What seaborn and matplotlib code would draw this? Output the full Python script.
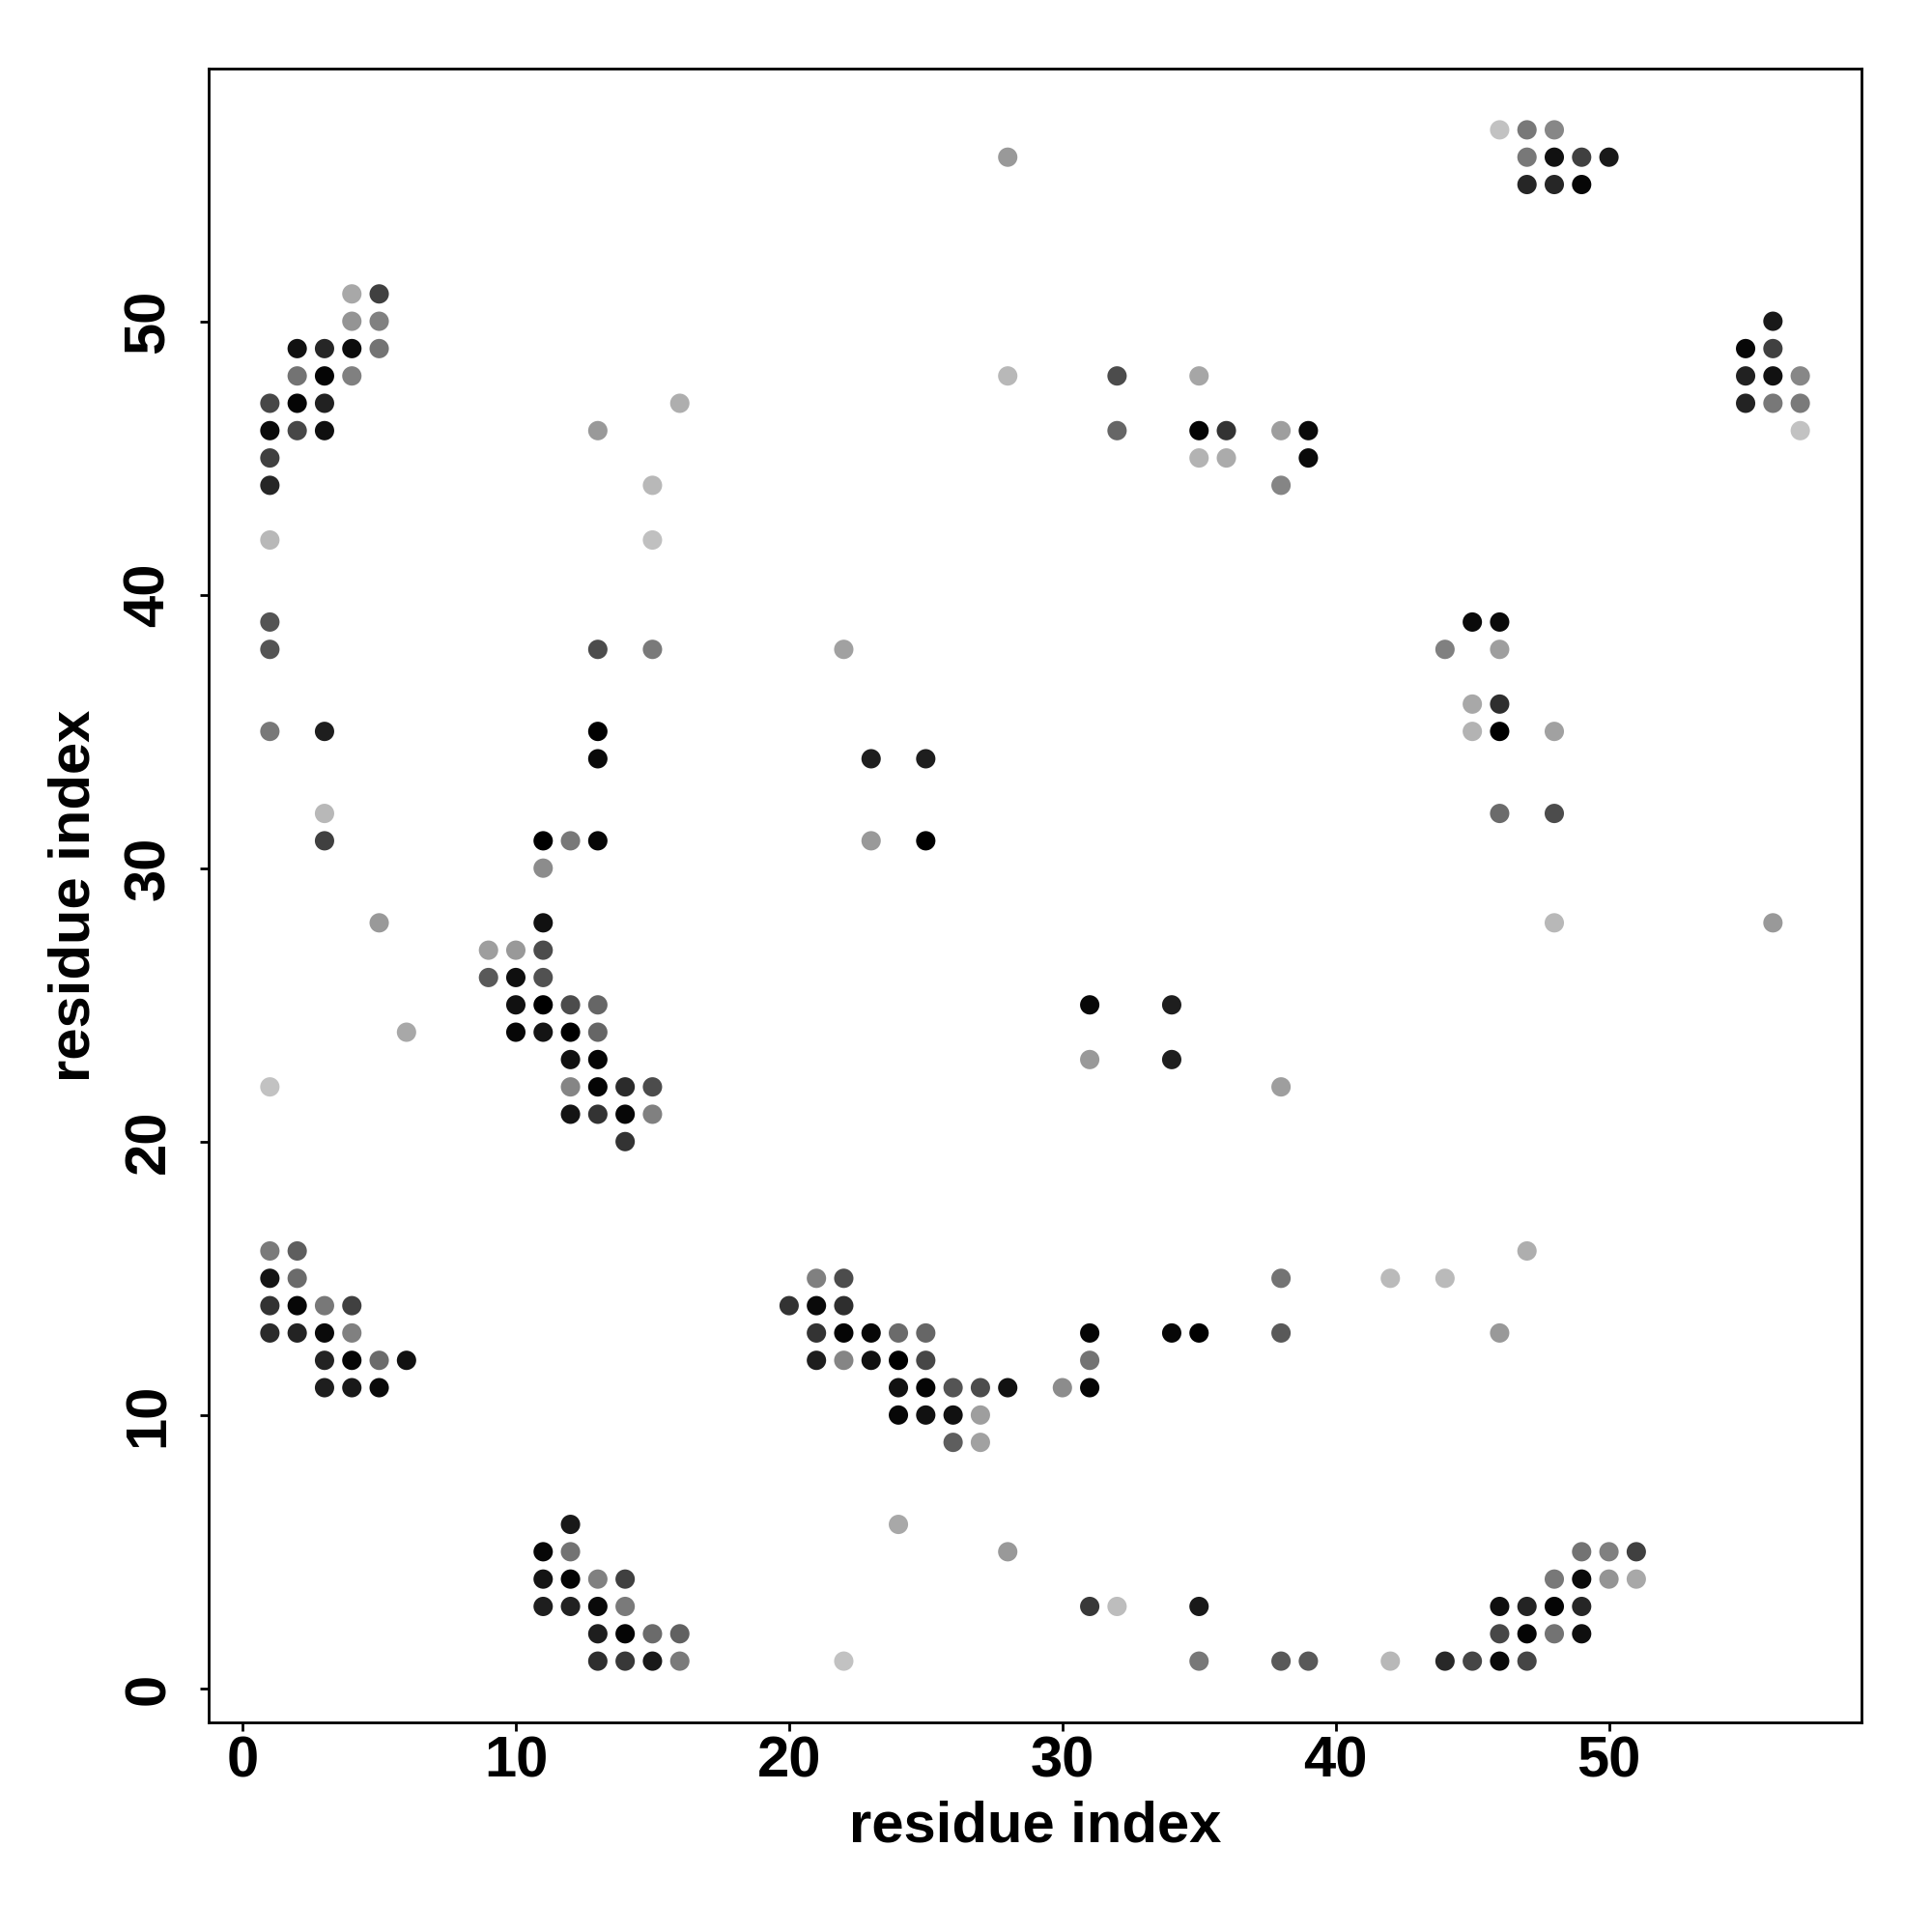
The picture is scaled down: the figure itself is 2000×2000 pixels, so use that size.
import numpy as np
import pandas as pd
import matplotlib
matplotlib.use('Agg')
import matplotlib.pyplot as plt
import seaborn as sns

# contact map: residue pairs (i, j) and shade (0 = black, 1 = white)
i_idx = [46, 47, 48,
         28, 47, 48, 49, 50,
         47, 48, 49,
         4, 5,
         4, 5, 56,
         2, 3, 4, 5, 55, 56,
         2, 3, 4, 28, 32, 35, 55, 56, 57,
         1, 2, 3, 16, 55, 56, 57,
         1, 2, 3, 13, 32, 35, 36, 38, 39, 57,
         1, 35, 36, 39,
         1, 15, 38,
         1, 15,
         1, 45, 46,
         1, 13, 15, 22, 44, 46,
         45, 46,
         1, 3, 13, 45, 46, 48,
         13, 23, 25,
         3, 46, 48,
         3, 11, 12, 13, 23, 25,
         11,
         5, 11, 48, 56,
         9, 10, 11,
         9, 10, 11,
         10, 11, 12, 13, 31, 34,
         6, 10, 11, 12, 13,
         12, 13, 31, 34,
         1, 12, 13, 14, 15, 38,
         12, 13, 14, 15,
         14,
         1, 2, 47,
         1, 2, 21, 22, 38, 42, 44,
         1, 2, 3, 4, 20, 21, 22,
         1, 2, 3, 4, 21, 22, 23, 24, 25, 31, 34, 35, 38, 46,
         3, 4, 5, 6, 21, 22, 23, 24, 25, 31,
         3, 4, 5, 24, 25, 26, 27, 28, 30, 31,
         24, 25, 26, 27,
         26, 27,
         12, 24,
         11, 12, 28, 49, 50, 51,
         11, 12, 13, 14, 48, 49, 50, 51,
         11, 12, 13, 14, 31, 32, 35, 46, 47, 48, 49,
         13, 14, 15, 16, 46, 47, 48, 49,
         13, 14, 15, 16, 22, 35, 38, 39, 42, 44, 45, 46, 47]

j_idx = [57, 57, 57,
         56, 56, 56, 56, 56,
         55, 55, 55,
         51, 51,
         50, 50, 50,
         49, 49, 49, 49, 49, 49,
         48, 48, 48, 48, 48, 48, 48, 48, 48,
         47, 47, 47, 47, 47, 47, 47,
         46, 46, 46, 46, 46, 46, 46, 46, 46, 46,
         45, 45, 45, 45,
         44, 44, 44,
         42, 42,
         39, 39, 39,
         38, 38, 38, 38, 38, 38,
         36, 36,
         35, 35, 35, 35, 35, 35,
         34, 34, 34,
         32, 32, 32,
         31, 31, 31, 31, 31, 31,
         30,
         28, 28, 28, 28,
         27, 27, 27,
         26, 26, 26,
         25, 25, 25, 25, 25, 25,
         24, 24, 24, 24, 24,
         23, 23, 23, 23,
         22, 22, 22, 22, 22, 22,
         21, 21, 21, 21,
         20,
         16, 16, 16,
         15, 15, 15, 15, 15, 15, 15,
         14, 14, 14, 14, 14, 14, 14,
         13, 13, 13, 13, 13, 13, 13, 13, 13, 13, 13, 13, 13, 13,
         12, 12, 12, 12, 12, 12, 12, 12, 12, 12,
         11, 11, 11, 11, 11, 11, 11, 11, 11, 11,
         10, 10, 10, 10,
         9, 9,
         6, 6,
         5, 5, 5, 5, 5, 5,
         4, 4, 4, 4, 4, 4, 4, 4,
         3, 3, 3, 3, 3, 3, 3, 3, 3, 3, 3,
         2, 2, 2, 2, 2, 2, 2, 2,
         1, 1, 1, 1, 1, 1, 1, 1, 1, 1, 1, 1, 1]

shade = [0.76, 0.47, 0.53,
         0.60, 0.47, 0.07, 0.25, 0.10,
         0.15, 0.15, 0.03,
         0.66, 0.25,
         0.58, 0.50, 0.10,
         0.07, 0.15, 0.05, 0.45, 0.03, 0.25,
         0.45, 0.02, 0.50, 0.72, 0.30, 0.65, 0.13, 0.07, 0.53,
         0.28, 0.02, 0.13, 0.68, 0.14, 0.47, 0.48,
         0.04, 0.28, 0.06, 0.60, 0.40, 0.02, 0.20, 0.62, 0.04, 0.76,
         0.25, 0.70, 0.67, 0.04,
         0.15, 0.72, 0.52,
         0.72, 0.75,
         0.33, 0.04, 0.04,
         0.33, 0.30, 0.48, 0.63, 0.50, 0.62,
         0.66, 0.18,
         0.47, 0.12, 0.00, 0.70, 0.00, 0.63,
         0.04, 0.12, 0.12,
         0.72, 0.42, 0.30,
         0.25, 0.00, 0.47, 0.03, 0.60, 0.00,
         0.55,
         0.60, 0.07, 0.72, 0.60,
         0.62, 0.60, 0.30,
         0.35, 0.06, 0.32,
         0.07, 0.00, 0.30, 0.40, 0.03, 0.12,
         0.66, 0.03, 0.08, 0.00, 0.40,
         0.07, 0.02, 0.60, 0.12,
         0.76, 0.52, 0.02, 0.17, 0.30, 0.62,
         0.08, 0.20, 0.03, 0.50,
         0.20,
         0.48, 0.37, 0.68,
         0.08, 0.42, 0.50, 0.30, 0.45, 0.73, 0.73,
         0.20, 0.03, 0.47, 0.25, 0.20, 0.04, 0.18,
         0.17, 0.14, 0.04, 0.50, 0.20, 0.02, 0.03, 0.42, 0.40, 0.02, 0.03, 0.00, 0.35, 0.60,
         0.14, 0.02, 0.42, 0.07, 0.12, 0.52, 0.07, 0.00, 0.28, 0.45,
         0.12, 0.10, 0.04, 0.07, 0.02, 0.33, 0.30, 0.07, 0.55, 0.02,
         0.03, 0.07, 0.07, 0.62,
         0.37, 0.63,
         0.10, 0.66,
         0.03, 0.45, 0.60, 0.45, 0.50, 0.25,
         0.08, 0.02, 0.50, 0.25, 0.47, 0.04, 0.58, 0.66,
         0.12, 0.13, 0.04, 0.48, 0.22, 0.74, 0.10, 0.06, 0.14, 0.02, 0.15,
         0.12, 0.02, 0.42, 0.38, 0.28, 0.02, 0.45, 0.06,
         0.18, 0.22, 0.10, 0.48, 0.76, 0.47, 0.35, 0.35, 0.72, 0.16, 0.27, 0.04, 0.27]

axis_ticks = [0, 10, 20, 30, 40, 50]

sns.set_style('white')
plt.rcParams['font.family'] = ['Liberation Sans', 'DejaVu Sans']

df = pd.DataFrame({'i': i_idx, 'j': j_idx, 'shade': shade})

fig, ax = plt.subplots(figsize=(10, 10), dpi=200)
fig.subplots_adjust(left=0.108, right=0.9635, bottom=0.1085, top=0.9645)

sns.scatterplot(data=df, x='i', y='j', hue='shade', palette='gray',
                hue_norm=(0, 1), s=52, linewidth=0, legend=False, ax=ax)

ax.set_xlim(-1.24, 59.24)
ax.set_ylim(-1.24, 59.24)
ax.set_xticks(axis_ticks)
ax.set_yticks(axis_ticks)

for sp in ax.spines.values():
    sp.set_visible(True)
    sp.set_color('black')
    sp.set_linewidth(1.0)

ax.tick_params(bottom=True, left=True, direction='out', length=3.2, width=1.0,
               color='black', labelsize=21.5, labelcolor='black')
ax.tick_params(axis='x', pad=1.5)
ax.tick_params(axis='y', pad=9)
for lab in ax.get_xticklabels() + ax.get_yticklabels():
    lab.set_fontweight('bold')
plt.setp(ax.get_yticklabels(), rotation=90, va='center')

ax.set_xlabel('residue index', fontsize=21.5, fontweight='bold', va='center', color='black')
ax.set_ylabel('residue index', fontsize=21.5, fontweight='bold', va='center', color='black')
ax.xaxis.set_label_coords(0.5, -0.063)
ax.yaxis.set_label_coords(-0.081, 0.5)

fig.savefig('out.png', dpi=200, facecolor='white')
